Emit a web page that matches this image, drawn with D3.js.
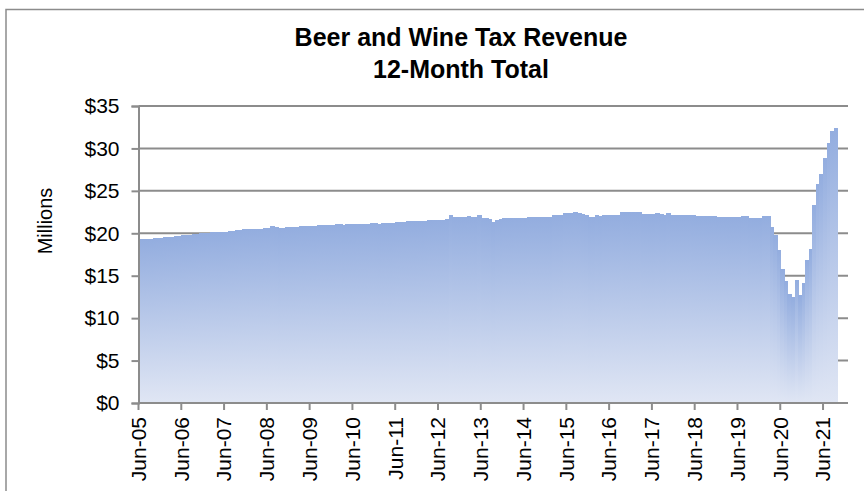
<!DOCTYPE html>
<html>
<head>
<meta charset="utf-8">
<script src="https://cdn.jsdelivr.net/npm/d3@7"></script>
<style>
  body { margin: 0; background: #fff; }
  svg { display: block; font-family: "Liberation Sans", Arial, sans-serif; }
</style>
</head>
<body>
<script>
var w = 864;  // width of the page
var h = 491;  // height of the page

// 12-month total revenue, millions of dollars, one value per month from Jun-05
var revenue = [
  19.3, 19.3, 19.35, 19.35, 19.4, 19.45, 19.5, 19.55, 19.6, 19.6, 19.65, 19.7,
  19.75, 19.8, 19.85, 19.9, 19.95, 20.0, 20.0, 20.05, 20.1, 20.1, 20.1, 20.15,
  20.2, 20.25, 20.3, 20.35, 20.4, 20.45, 20.45, 20.5, 20.5, 20.55, 20.55, 20.6,
  20.6, 20.8, 20.75, 20.6, 20.65, 20.7, 20.7, 20.7, 20.75, 20.8, 20.8, 20.85,
  20.9, 20.9, 20.95, 21.0, 21.0, 21.0, 21.0, 21.05, 21.05, 21.0, 21.05, 21.05,
  21.05, 21.1, 21.1, 21.1, 21.15, 21.2, 21.2, 21.15, 21.2, 21.25, 21.2, 21.25,
  21.3, 21.35, 21.35, 21.4, 21.4, 21.4, 21.45, 21.45, 21.5, 21.55, 21.55, 21.6,
  21.6, 21.6, 21.65, 22.2, 21.95, 21.95, 21.95, 21.95, 22.0, 21.95, 21.9, 22.1,
  21.8, 21.75, 21.7, 21.35, 21.6, 21.65, 21.8, 21.8, 21.8, 21.85, 21.85, 21.85,
  21.85, 21.9, 21.9, 21.9, 21.9, 21.9, 21.9, 21.9, 22.15, 22.15, 22.2, 22.4,
  22.4, 22.4, 22.45, 22.4, 22.3, 22.2, 21.9, 21.95, 22.1, 22.0, 22.15, 22.15,
  22.2, 22.2, 22.2, 22.55, 22.45, 22.45, 22.5, 22.5, 22.5, 22.3, 22.3, 22.25,
  22.25, 22.35, 22.25, 22.2, 22.35, 22.2, 22.2, 22.2, 22.2, 22.2, 22.2, 22.1,
  22.05, 22.05, 22.05, 22.0, 22.0, 22.0, 21.95, 21.95, 21.95, 21.9, 21.9, 21.9,
  21.9, 22.0, 22.0, 21.85, 21.8, 21.8, 21.75, 22.0, 22.0, 20.7, 19.8, 18.0,
  15.8, 14.4, 12.9, 12.5, 14.5, 12.7, 14.1, 16.8, 18.1, 23.3, 25.8, 27.0,
  28.9, 30.6, 32.1, 32.4
];

// category axis runs monthly from Jun-05 to Dec-21 (the last months are empty)
var months = d3.timeMonths(new Date(2005, 5, 1), new Date(2022, 0, 1));

var tickLabels = ["Jun-05", "Jun-06", "Jun-07", "Jun-08", "Jun-09", "Jun-10",
                  "Jun-11", "Jun-12", "Jun-13", "Jun-14", "Jun-15", "Jun-16",
                  "Jun-17", "Jun-18", "Jun-19", "Jun-20", "Jun-21"];

var yTicks = [0, 5, 10, 15, 20, 25, 30, 35];

// plot area edges
var plotLeft = 138.5, plotRight = 848, plotTop = 106, plotBottom = 403;

var fmtMonth = d3.timeFormat("%b-%y");

var xScale = d3.scaleBand()
               .domain(months.map(fmtMonth))
               .range([plotLeft, plotRight])
               .paddingInner(0)
               .paddingOuter(0);

var yScale = d3.scaleLinear()
               .domain([0, 35])
               .range([plotBottom, plotTop]);

var svg = d3.select("body")
            .append("svg")
            .attr("width", w)
            .attr("height", h);

// per-bar gradient, blue at the top fading to pale at the base
var grad = svg.append("defs")
              .append("linearGradient")
              .attr("id", "barFill")
              .attr("x1", 0).attr("y1", 0)
              .attr("x2", 0).attr("y2", 1);
grad.append("stop").attr("offset", "0%").attr("stop-color", "#93addf");
grad.append("stop").attr("offset", "100%").attr("stop-color", "#e0e6f4");

// outer chart frame (runs off the right and bottom of the picture)
svg.append("rect")
   .attr("x", 6)
   .attr("y", 9.5)
   .attr("width", 900)
   .attr("height", 600)
   .attr("fill", "none")
   .attr("stroke", "#8c8c8c")
   .attr("stroke-width", 1.5);

// title
svg.append("text")
   .attr("x", 461)
   .attr("y", 46)
   .attr("text-anchor", "middle")
   .attr("font-size", "25px")
   .attr("font-weight", "bold")
   .attr("fill", "#000")
   .text("Beer and Wine Tax Revenue");

svg.append("text")
   .attr("x", 461)
   .attr("y", 78)
   .attr("text-anchor", "middle")
   .attr("font-size", "25px")
   .attr("font-weight", "bold")
   .attr("fill", "#000")
   .text("12-Month Total");

// horizontal gridlines, drawn under the bars
svg.append("g")
   .selectAll("line")
   .data(yTicks.filter(function(d) { return d > 0; }))
   .enter()
   .append("line")
   .attr("x1", plotLeft)
   .attr("x2", plotRight)
   .attr("y1", function(d) { return yScale(d); })
   .attr("y2", function(d) { return yScale(d); })
   .attr("stroke", "#8c8c8c")
   .attr("stroke-width", 2);

// bars (no gap between them; crisp edges avoid seams)
svg.append("g")
   .attr("shape-rendering", "crispEdges")
   .selectAll("rect")
   .data(revenue)
   .enter()
   .append("rect")
   .attr("x", function(d, i) { return xScale(fmtMonth(months[i])); })
   .attr("y", function(d) { return yScale(d); })
   .attr("width", xScale.bandwidth() + 1)
   .attr("height", function(d) { return plotBottom - yScale(d); })
   .attr("fill", "url(#barFill)");

// y axis
var yAxis = d3.axisLeft(yScale)
              .tickValues(yTicks)
              .tickSize(7)
              .tickPadding(12)
              .tickFormat(function(d) { return "$" + d; });

var gy = svg.append("g")
            .attr("transform", "translate(" + plotLeft + ",0)")
            .call(yAxis);
gy.select(".domain").attr("stroke", "#8c8c8c").attr("stroke-width", 2);
gy.selectAll(".tick line").attr("stroke", "#8c8c8c").attr("stroke-width", 2);
gy.selectAll(".tick text")
  .attr("font-size", "21px")
  .attr("font-family", "'Liberation Sans', Arial, sans-serif")
  .attr("fill", "#000");

// x axis, one tick per June at the band start
var xAxis = d3.axisBottom(xScale)
              .tickValues(tickLabels)
              .tickSize(7)
              .tickSizeOuter(0);

var half = xScale.bandwidth() / 2;
var gx = svg.append("g")
            .attr("transform", "translate(" + (-half) + "," + plotBottom + ")")
            .call(xAxis);
gx.select(".domain")
  .attr("d", "M" + (plotLeft + half) + ",0H" + (plotRight + half))
  .attr("stroke", "#8c8c8c").attr("stroke-width", 2);
gx.selectAll(".tick line").attr("stroke", "#8c8c8c").attr("stroke-width", 2);
gx.selectAll(".tick text")
  .attr("font-size", "21px")
  .attr("font-family", "'Liberation Sans', Arial, sans-serif")
  .attr("fill", "#000")
  .attr("text-anchor", "end")
  .attr("transform", "rotate(-90)")
  .attr("x", -14)
  .attr("y", 0)
  .attr("dy", "0.35em");

// y axis title
svg.append("text")
   .attr("transform", "translate(52,221) rotate(-90)")
   .attr("text-anchor", "middle")
   .attr("font-size", "20px")
   .attr("fill", "#000")
   .text("Millions");
</script>
</body>
</html>
